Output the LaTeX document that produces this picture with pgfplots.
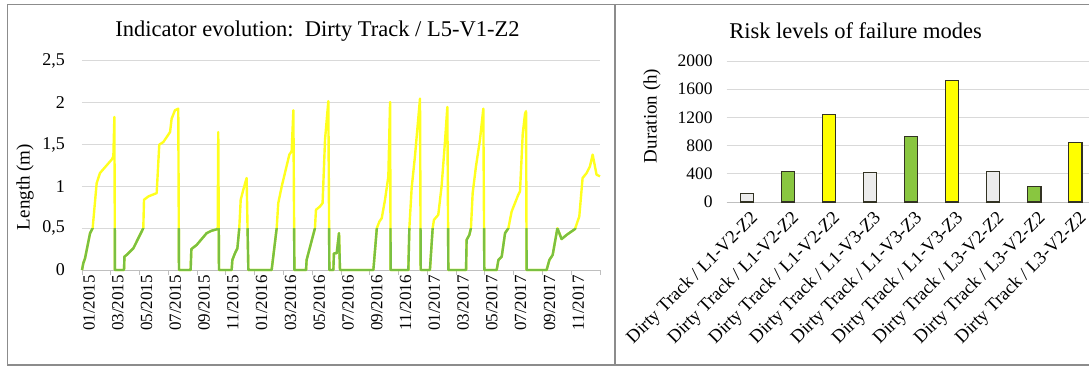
\documentclass[border=0pt]{standalone}
\usepackage{pgfplots}
\pgfplotsset{compat=1.18}
\usepackage{fontspec}
\setmainfont{Liberation Serif}
\definecolor{ylw}{RGB}{255,255,30}
\definecolor{grn}{RGB}{122,192,66}
\definecolor{barg}{RGB}{137,198,64}
\definecolor{bary}{RGB}{255,255,0}
\definecolor{barw}{RGB}{236,236,236}
\definecolor{gridc}{RGB}{217,217,217}
\definecolor{axc}{RGB}{191,191,191}
\definecolor{frame}{RGB}{140,140,140}
\definecolor{outl}{RGB}{50,50,35}
\pgfplotstableread{
m v
0 0
0.09 0.08
0.21 0.14
0.56 0.44
0.74 0.5
1.02 1.04
1.25 1.16
2.06 1.32
2.18 1.36
2.25 1.83
2.29 0
2.92 0
2.95 0.16
3.1 0.18
3.57 0.26
4.26 0.5
4.31 0.84
4.61 0.88
5.19 0.92
5.37 1.5
5.65 1.53
6.12 1.65
6.23 1.81
6.46 1.91
6.69 1.93
6.74 0
7.55 0
7.6 0.25
7.97 0.3
8.66 0.44
9.01 0.47
9.43 0.49
9.47 1.65
9.52 0
10.4 0
10.45 0.12
10.63 0.2
10.8 0.26
10.93 0.5
11.03 0.84
11.21 0.96
11.44 1.1
11.56 0
13.18 0
13.53 0.5
13.64 0.8
13.88 1.0
14.41 1.38
14.57 1.42
14.69 1.91
14.76 0
15.57 0
15.61 0.12
16.19 0.5
16.26 0.72
16.54 0.76
16.72 0.8
16.89 1.56
17.12 2.02
17.19 0
17.47 0
17.51 0.2
17.7 0.2
17.86 0.44
17.93 0
20.25 0
20.49 0.5
20.67 0.58
20.83 0.62
21.06 0.84
21.29 1.12
21.41 2.01
21.45 0
22.68 0
22.75 0.5
22.91 0.98
23.14 1.36
23.49 2.05
23.54 0
24.18 0
24.37 0.5
24.46 0.6
24.76 0.66
24.99 1.0
25.22 1.52
25.39 1.95
25.46 0
26.69 0
26.73 0.36
26.92 0.42
27.03 0.5
27.15 0.92
27.38 1.24
27.66 1.56
27.89 1.93
27.96 0
28.82 0
28.94 0.12
29.17 0.16
29.4 0.44
29.63 0.5
29.86 0.7
30.32 0.9
30.44 0.94
30.63 1.63
30.79 1.87
30.86 1.9
30.9 0
32.29 0
32.48 0.12
32.71 0.18
33.04 0.5
33.33 0.37
33.68 0.42
34.26 0.49
34.56 0.64
34.79 1.1
35.07 1.16
35.3 1.24
35.49 1.38
35.76 1.14
36 1.12
}\lendata
\begin{document}
\begin{tikzpicture}[x=1pt,y=1pt]
% frames
\draw[frame, line width=1.8pt] (7.5,362.5) rectangle (615,2);
\draw[frame, line width=1.8pt] (615,362.5) -- (1089,362.5);
\draw[frame, line width=1.8pt] (615,2) -- (1089,2);
% left chart
\begin{axis}[
  at={(82pt,97pt)}, anchor=south west, scale only axis,
  width=518pt, height=209pt,
  xmin=0, xmax=36, ymin=0, ymax=2.5,
  clip=false,
  axis x line*=bottom, axis y line*=left,
  y axis line style={draw=none},
  x axis line style={draw=axc, line width=1pt, -},
  ytick={0,0.5,1,1.5,2,2.5},
  yticklabels={0,{0,5},1,{1,5},2,{2,5}},
  ytick style={draw=none},
  xtick={0,2,...,34},
  xticklabels={01/2015,03/2015,05/2015,07/2015,09/2015,11/2015,01/2016,03/2016,05/2016,07/2016,09/2016,11/2016,01/2017,03/2017,05/2017,07/2017,09/2017,11/2017},
  extra x ticks={36}, extra x tick labels={},
  xtick style={draw=axc, line width=0.8pt},
  tick align=outside, major tick length=5pt,
  xticklabel style={rotate=90, anchor=east, font=\fontsize{17}{17}\selectfont, inner sep=0pt, yshift=-7pt},
  yticklabel style={font=\fontsize{18}{18}\selectfont, inner sep=0pt, xshift=-12pt},
  ymajorgrids, grid style={draw=gridc, line width=1pt},
  ylabel={Length (m)},
  ylabel style={at={(rel axis cs:-0.110,0.397)}, anchor=center, font=\fontsize{19}{19}\selectfont},
]
\addplot[ylw, line width=2.4pt, line join=round] table[x=m, y=v] {\lendata};
\begin{scope}
\clip (axis cs:-1,-0.3) rectangle (axis cs:37,0.5);
\addplot[grn, line width=2.4pt, line join=round] table[x=m, y=v] {\lendata};
\end{scope}
\end{axis}
\node[font=\fontsize{22.5}{22.5}\selectfont] at (317.5,336) {Indicator evolution:\ \ Dirty Track / L5-V1-Z2};
% right chart
\begin{axis}[
  at={(726.7pt,165pt)}, anchor=south west, scale only axis,
  width=362.3pt, height=141pt,
  xmin=-0.49, xmax=8.33, ymin=0, ymax=2000,
  clip=false,
  axis x line*=bottom, axis y line*=left,
  y axis line style={draw=none},
  x axis line style={draw=axc, line width=1pt, -},
  ytick={0,400,800,1200,1600,2000},
  yticklabels={0,400,800,1200,1600,2000},
  ytick style={draw=none}, xtick style={draw=none},
  xtick={0,...,8},
  xticklabels={Dirty Track / L1-V2-Z2,Dirty Track / L1-V2-Z2,Dirty Track / L1-V2-Z2,Dirty Track / L1-V3-Z3,Dirty Track / L1-V3-Z3,Dirty Track / L1-V3-Z3,Dirty Track / L3-V2-Z2,Dirty Track / L3-V2-Z2,Dirty Track / L3-V2-Z2},
  xticklabel style={rotate=45, anchor=east, font=\fontsize{18.5}{18.5}\selectfont, inner sep=0pt, xshift=-1pt, yshift=-13pt},
  yticklabel style={font=\fontsize{17.5}{17.5}\selectfont, inner sep=0pt, xshift=-14pt},
  ymajorgrids, grid style={draw=gridc, line width=1pt},
  ylabel={Duration (h)},
  ylabel style={at={(rel axis cs:-0.206,0.61)}, anchor=center, font=\fontsize{19}{19}\selectfont},
  ybar, bar width=0.32, bar shift=0pt,
]
\addplot[fill=barw, draw=outl, line width=1.2pt] coordinates {(0,125) (3,420) (6,430)};
\addplot[fill=barg, draw=outl, line width=1.2pt] coordinates {(1,430) (4,930) (7,220)};
\addplot[fill=bary, draw=outl, line width=1.2pt] coordinates {(2,1240) (5,1720) (8,840)};
\end{axis}
\node[font=\fontsize{22.5}{22.5}\selectfont] at (855.5,336) {Risk levels of failure modes};
\pgfresetboundingbox
\useasboundingbox (0,0) rectangle (1089,367);
\end{tikzpicture}
\end{document}
